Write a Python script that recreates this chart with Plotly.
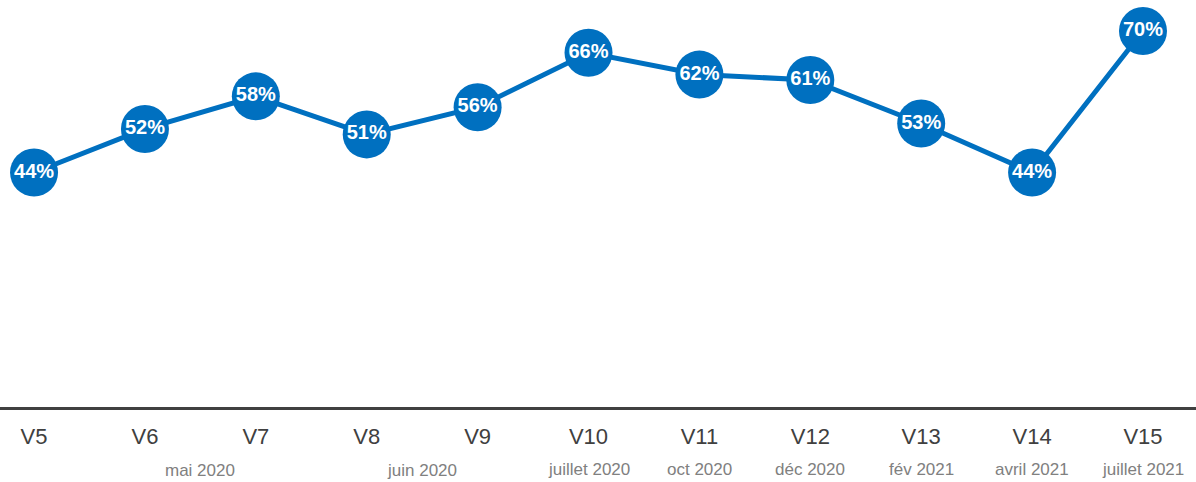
import plotly.graph_objects as go

# Survey waves and their share (%)
waves = ["V5", "V6", "V7", "V8", "V9", "V10", "V11", "V12", "V13", "V14", "V15"]
shares = [44, 52, 58, 51, 56, 66, 62, 61, 53, 44, 70]
# Fieldwork period of each wave (consecutive waves sharing a period get one label)
periods = [None, "mai 2020", "mai 2020", "juin 2020", "juin 2020", "juillet 2020",
           "oct 2020", "déc 2020", "fév 2021", "avril 2021", "juillet 2021"]

BLUE = "#0070C0"
idx = list(range(len(waves)))

fig = go.Figure()
fig.add_trace(go.Scatter(
    x=idx,
    y=shares,
    mode="lines+markers+text",
    line=dict(color=BLUE, width=5),
    marker=dict(color=BLUE, size=48, line=dict(width=0)),
    text=[f"{v}%" for v in shares],
    textposition="middle center",
    textfont=dict(family="Liberation Sans, Arial", size=20, color="white", weight="bold"),
    cliponaxis=False,
    hoverinfo="skip",
))

# Period labels, centred under the group of waves they cover
groups = []
for i, p in enumerate(periods):
    if p is None:
        continue
    if groups and groups[-1][0] == p and groups[-1][2] == i - 1:
        groups[-1][2] = i
    else:
        groups.append([p, i, i])
for label, start, end in groups:
    fig.add_annotation(
        x=(start + end) / 2, xref="x",
        y=0, yref="paper",
        yshift=-63 if end > start else -62, yanchor="middle",
        text=label, showarrow=False,
        font=dict(family="Liberation Sans, Arial", size=17, color="#808080"),
    )

fig.update_xaxes(
    range=[-0.307, 10.478],
    tickvals=idx,
    ticktext=waves,
    tickfont=dict(family="Liberation Sans, Arial", size=22, color="#404040"),
    showline=True, linecolor="#404040", linewidth=3,
    showgrid=False, zeroline=False, ticks="",
    ticklabelstandoff=8,
    fixedrange=True,
)
fig.update_yaxes(
    range=[0.91, 75.70],
    visible=False,
    showgrid=False, zeroline=False,
    fixedrange=True,
)
fig.update_layout(
    width=1196, height=482,
    margin=dict(l=0, r=0, t=0, b=75),
    plot_bgcolor="white",
    paper_bgcolor="white",
    showlegend=False,
)

fig.write_html("out.html", config={"displayModeBar": False})
